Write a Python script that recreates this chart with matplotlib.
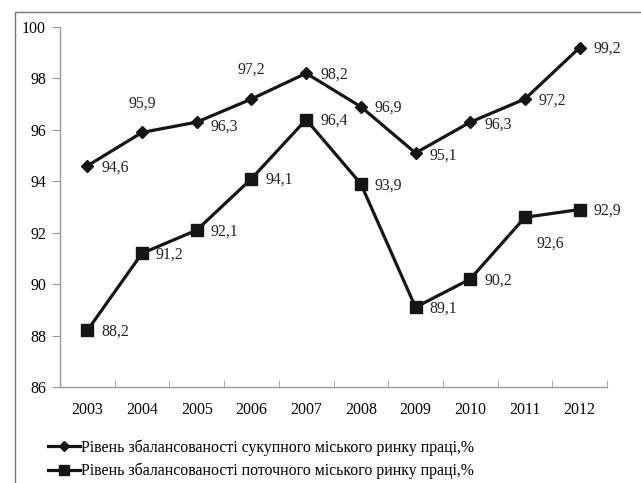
import matplotlib
matplotlib.use("Agg")
import matplotlib.pyplot as plt
from matplotlib.patches import Rectangle
from matplotlib.lines import Line2D

years = ["2003", "2004", "2005", "2006", "2007", "2008", "2009", "2010", "2011", "2012"]
total = [94.6, 95.9, 96.3, 97.2, 98.2, 96.9, 95.1, 96.3, 97.2, 99.2]
current = [88.2, 91.2, 92.1, 94.1, 96.4, 93.9, 89.1, 90.2, 92.6, 92.9]
label_total = "Рівень збалансованості сукупного міського ринку праці,%"
label_current = "Рівень збалансованості поточного міського ринку праці,%"
yticks = [86, 88, 90, 92, 94, 96, 98, 100]

plt.rcParams['font.family'] = ['Liberation Serif', 'DejaVu Serif']
FS = 11.4

W, H = 641, 483
fig = plt.figure(figsize=(W / 100, H / 100), dpi=100)

# outer chart frame
fig.patches.append(Rectangle((15 / W, -0.1), 2.0, 1 - 12 / H + 0.1, transform=fig.transFigure,
                             fill=False, edgecolor='#777777', linewidth=1.0))

ax = fig.add_axes([60 / W, 1 - 387 / H, 547 / W, 360 / H])
x = list(range(len(years)))
ax.plot(x, total, color='#151515', linewidth=2.3, marker='D', markersize=6.5,
        markerfacecolor='#151515', markeredgecolor='#151515', label=label_total)
ax.plot(x, current, color='#151515', linewidth=2.3, marker='s', markersize=8,
        markerfacecolor='#151515', markeredgecolor='#151515', label=label_current)

ax.set_xlim(-0.5, len(years) - 0.5)
ax.set_ylim(86, 100)
ax.set_yticks(yticks)
ax.set_yticklabels([str(v) for v in yticks], fontsize=FS)
ax.set_xticks(x)
ax.set_xticklabels(years, fontsize=FS)
ax.set_xticks([i - 0.5 for i in range(len(years) + 1)], minor=True)
ax.tick_params(axis='x', which='major', length=0, pad=11)
ax.tick_params(axis='x', which='minor', direction='in', length=5, color='#999999')
ax.tick_params(axis='y', length=6, color='#999999', pad=4)
for s in ['top', 'right']:
    ax.spines[s].set_visible(False)
for s in ['left', 'bottom']:
    ax.spines[s].set_color('#999999')
    ax.spines[s].set_linewidth(1.0)

def fmt(v):
    return f"{v:.1f}".replace('.', ',')

# label offsets in points (dx, dy)
right = (10, -1)
off_total = [right, (0, 21), (10, -3), (0, 21), right, right, (10, -2), (10, -2), right, right]
off_current = [right, right, right, right, right, right, right, right, (8, -19), right]
for i, v in enumerate(total):
    dx, dy = off_total[i]
    ha = 'center' if dx == 0 else 'left'
    ax.annotate(fmt(v), (i, v), xytext=(dx, dy), textcoords='offset points',
                ha=ha, va='center', fontsize=FS, color='#222222')
for i, v in enumerate(current):
    dx, dy = off_current[i]
    ax.annotate(fmt(v), (i, v), xytext=(dx, dy), textcoords='offset points',
                ha='left', va='center', fontsize=FS, color='#222222')

handles = [Line2D([], [], color='#151515', linewidth=2.3, marker='D', markersize=5),
           Line2D([], [], color='#151515', linewidth=2.3, marker='s', markersize=6.5)]
fig.legend(handles, [label_total, label_current], loc='upper left',
           bbox_to_anchor=(48 / W, 1 - 439 / H), frameon=False, fontsize=FS,
           handlelength=2.0, handletextpad=0.1, labelspacing=0.45, borderpad=0, borderaxespad=0)

fig.savefig("out.png", dpi=100)
